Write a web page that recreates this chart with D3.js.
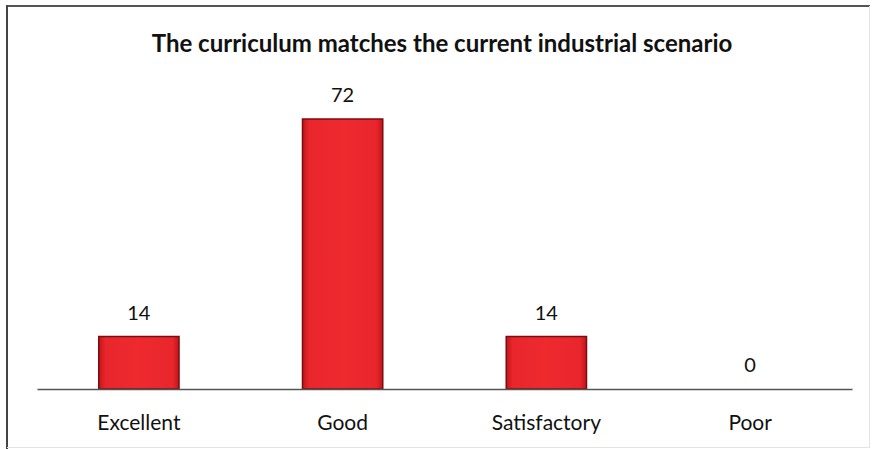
<!DOCTYPE html>
<html><head><meta charset="utf-8">
<script src="https://cdn.jsdelivr.net/npm/d3@7"></script>
<style>body{margin:0;background:#fff}svg{display:block}text{font-family:Lato,"Open Sans",sans-serif;fill:#111}</style>
</head><body><svg id="c" width="872" height="449"></svg>
<script>
const categories = ["Excellent","Good","Satisfactory","Poor"];
const values = [14,72,14,0];
const title = "The curriculum matches the current industrial scenario";

const svg = d3.select("#c");
const W=872,H=449;
svg.append("rect").attr("width",W).attr("height",H).attr("fill","#fff");
// frame
svg.append("line").attr("x1",6).attr("x2",870).attr("y1",6).attr("y2",6).attr("stroke","#555").attr("stroke-width",2);
svg.append("line").attr("x1",7).attr("x2",7).attr("y1",5).attr("y2",449).attr("stroke","#444").attr("stroke-width",2);
svg.append("line").attr("x1",869.5).attr("x2",869.5).attr("y1",6).attr("y2",447.5).attr("stroke","#e4e4e4").attr("stroke-width",1);
svg.append("line").attr("x1",7).attr("x2",870).attr("y1",447.5).attr("y2",447.5).attr("stroke","#e4e4e4").attr("stroke-width",1);

const defs = svg.append("defs");
const g1 = defs.append("linearGradient").attr("id","gh").attr("x1","0").attr("x2","1").attr("y1","0").attr("y2","0");
[["0%","#c0161b"],["8%","#e8262b"],["50%","#ee2a2f"],["92%","#e8262b"],["100%","#c0161b"]].forEach(([o,c])=>g1.append("stop").attr("offset",o).attr("stop-color",c));

const x = d3.scaleBand().domain(categories).range([37,852]).paddingInner(0.606).paddingOuter(0.303);
const y = d3.scaleLinear().domain([0,72]).range([389,119]);

svg.append("text").attr("x",442).attr("y",52).attr("text-anchor","middle")
  .attr("font-size",24).attr("font-weight","bold").text(title);

svg.selectAll("rect.bar").data(values).join("rect").attr("class","bar")
  .attr("x",(d,i)=>x(categories[i])).attr("width",x.bandwidth())
  .attr("y",d=>y(d)).attr("height",d=>y(0)-y(d))
  .attr("fill","url(#gh)").attr("stroke","#7a0d10").attr("stroke-width",1.5);

svg.selectAll("text.val").data(values).join("text").attr("class","val")
  .attr("x",(d,i)=>x(categories[i])+x.bandwidth()/2).attr("y",d=>y(d)-17)
  .attr("text-anchor","middle").attr("font-size",20).text(d=>d);

const ax = d3.axisBottom(x).tickSize(0).tickPadding(26);
const gA = svg.append("g").attr("transform","translate(0,389)").call(ax);
gA.select(".domain").attr("stroke","#555").attr("stroke-width",1.5);
gA.selectAll("text").attr("font-size",21).attr("font-family","Lato,'Open Sans',sans-serif").attr("fill","#111");
</script></body></html>
